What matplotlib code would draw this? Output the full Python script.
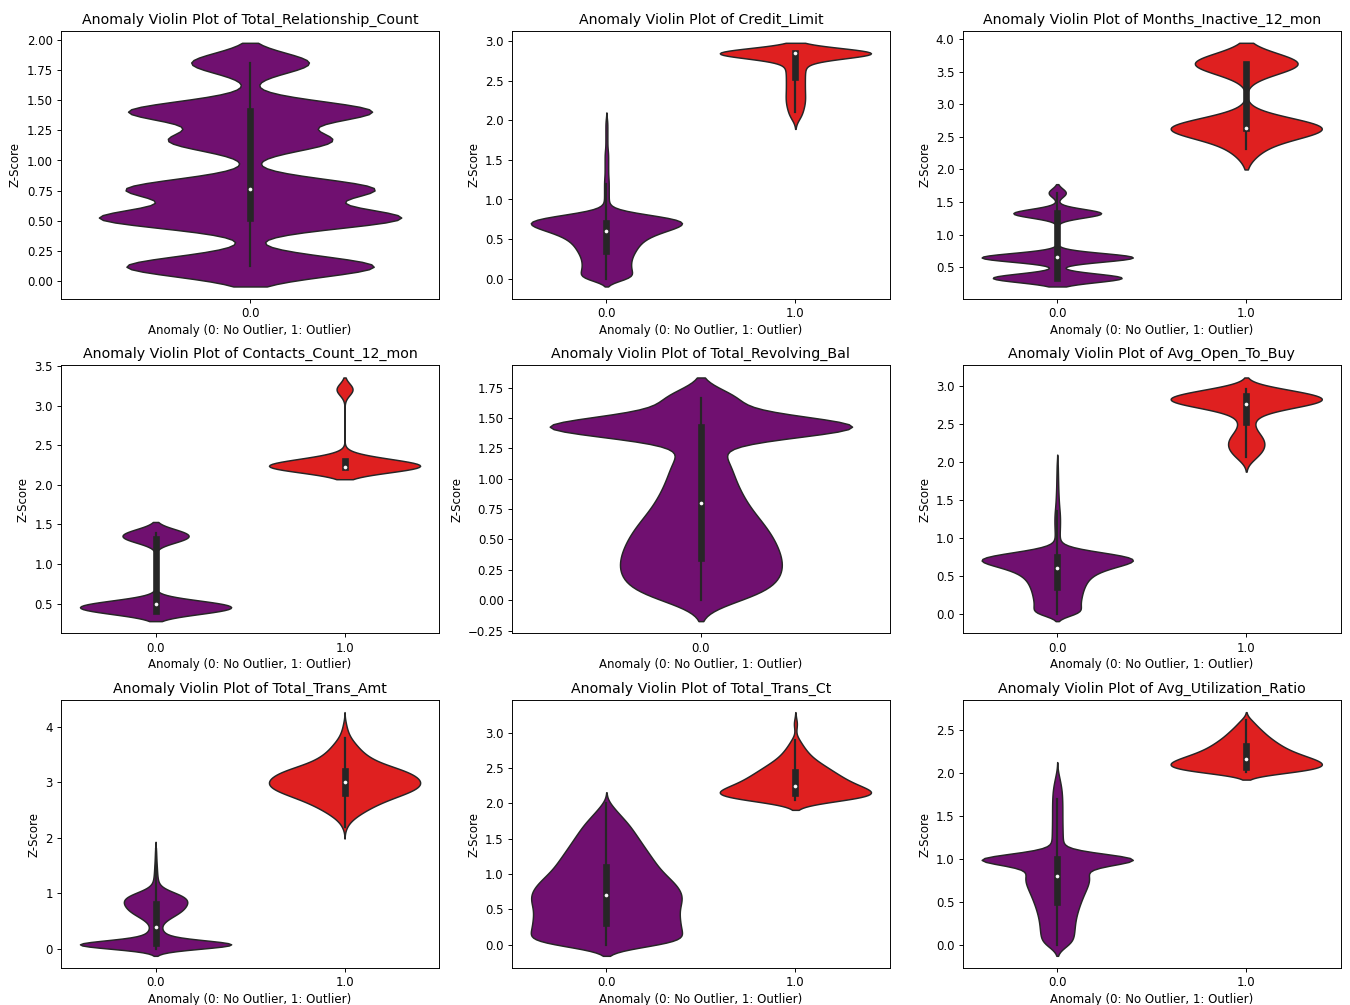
import numpy as np
import pandas as pd
import matplotlib
matplotlib.use("Agg")
import matplotlib.pyplot as plt
import seaborn as sns

# absolute z-score levels and number of customers at each level
relationship_z = [0.121, 0.523, 0.764, 1.166, 1.408, 1.810]
relationship_n = [1912, 2305, 1891, 1243, 1866, 910]

credit_limit_z = [0.00, 0.05, 0.10, 0.15, 0.20, 0.25, 0.30, 0.35, 0.40, 0.45,
                  0.50, 0.55, 0.60, 0.65, 0.70, 0.75, 0.80, 0.85, 0.90, 0.95,
                  1.00, 1.05, 1.10, 1.15, 1.20, 1.25, 1.30, 1.35, 1.40, 1.45,
                  1.50, 1.55, 1.60, 1.65, 1.70, 1.75, 1.80, 1.85, 1.90, 1.95,
                  2.00, 2.02, 2.06, 2.10, 2.15, 2.20, 2.25, 2.30, 2.35, 2.40,
                  2.45, 2.50, 2.55, 2.60, 2.65, 2.70, 2.75, 2.80, 2.85]
credit_limit_n = [353, 333, 314, 304, 304, 314, 333, 363, 392, 431,
                  490, 588, 735, 911, 1029, 960, 588, 176, 49, 29,
                  29, 29, 29, 29, 29, 29, 22, 22, 22, 22,
                  22, 22, 22, 12, 12, 12, 12, 12, 12, 12,
                  12, 10, 12, 14, 19, 21, 22, 22, 21, 21,
                  21, 21, 21, 21, 22, 23, 25, 29, 508]

months_inactive_z = [0.338, 0.652, 1.328, 1.642, 2.318, 2.632, 3.622]
months_inactive_n = [3282, 3846, 2233, 435, 29, 178, 124]

contacts_z = [0.412, 0.493, 1.316, 1.397, 2.220, 2.301, 3.205]
contacts_n = [3227, 3380, 1499, 1392, 399, 176, 54]

revolving_z = [0.00, 0.05, 0.10, 0.15, 0.20, 0.25, 0.30, 0.35, 0.40, 0.45,
               0.50, 0.55, 0.60, 0.65, 0.70, 0.75, 0.80, 0.85, 0.90, 0.95,
               1.00, 1.05, 1.10, 1.15, 1.20, 1.25, 1.30, 1.35, 1.40, 1.45,
               1.50, 1.55, 1.60, 1.427, 1.661]
revolving_n = [222, 259, 290, 314, 326, 333, 333, 326, 320, 308,
               296, 283, 265, 246, 222, 203, 185, 172, 160, 148,
               136, 129, 123, 117, 105, 62, 31, 25, 25, 25,
               31, 86, 49, 2470, 500]

open_to_buy_z = [0.00, 0.05, 0.10, 0.15, 0.20, 0.25, 0.30, 0.35, 0.40, 0.45,
                 0.50, 0.55, 0.60, 0.65, 0.70, 0.75, 0.80, 0.85, 0.90, 0.95,
                 1.00, 1.05, 1.10, 1.15, 1.20, 1.25, 1.30, 1.35, 1.40, 1.45,
                 1.50, 1.55, 1.60, 1.65, 1.70, 1.75, 1.80, 1.85, 1.90, 1.95,
                 2.00, 2.02, 2.07, 2.12, 2.17, 2.22, 2.27, 2.32, 2.37, 2.42,
                 2.47, 2.52, 2.57, 2.62, 2.67, 2.72, 2.77, 2.82, 2.87, 2.92,
                 2.97]
open_to_buy_n = [330, 300, 290, 290, 300, 310, 320, 340, 360, 390,
                 440, 520, 660, 860, 1050, 980, 620, 250, 70, 35,
                 30, 30, 32, 34, 35, 35, 34, 30, 26, 22,
                 19, 17, 15, 13, 12, 11, 10, 9, 8, 7,
                 6, 8, 12, 17, 20, 21, 21, 19, 15, 11,
                 8, 8, 9, 12, 22, 48, 85, 105, 92, 65,
                 40]

trans_amt_z = [0.00, 0.05, 0.10, 0.15, 0.20, 0.25, 0.30, 0.35, 0.40, 0.45,
               0.50, 0.55, 0.60, 0.65, 0.70, 0.75, 0.80, 0.85, 0.90, 0.95,
               1.00, 1.05, 1.10, 1.15, 1.20, 1.25, 1.30, 1.35, 1.40, 1.45,
               1.50, 1.55, 1.60, 1.65, 1.70, 1.75, 1.80,
               2.15, 2.20, 2.25, 2.30, 2.35, 2.40, 2.45, 2.50, 2.55, 2.60,
               2.65, 2.70, 2.75, 2.80, 2.85, 2.90, 2.95, 3.00, 3.05, 3.10,
               3.15, 3.20, 3.25, 3.30, 3.35, 3.40, 3.45, 3.50, 3.55, 3.60,
               3.65, 3.70, 3.75, 3.80, 3.85, 3.90, 3.95, 4.00, 4.05, 4.10]
trans_amt_n = [385, 1595, 1760, 385, 220, 154, 110, 88, 83, 99,
               143, 209, 286, 363, 410, 445, 470, 485, 475, 425,
               315, 180, 95, 55, 39, 33, 28, 24, 22, 20,
               18, 14, 12, 10, 9, 7, 6,
               1, 2, 3, 5, 8, 11, 15, 19, 23, 28,
               33, 39, 46, 53, 59, 64, 66, 66, 65, 62,
               58, 54, 46, 37, 30, 25, 21, 18, 15, 13,
               11, 9, 7, 5, 4, 3, 2, 2, 1, 1]

trans_ct_z = [0.00, 0.05, 0.10, 0.15, 0.20, 0.25, 0.30, 0.35, 0.40, 0.45,
              0.50, 0.55, 0.60, 0.65, 0.70, 0.75, 0.80, 0.85, 0.90, 0.95,
              1.00, 1.05, 1.10, 1.15, 1.20, 1.25, 1.30, 1.35, 1.40, 1.45,
              1.50, 1.55, 1.60, 1.65, 1.70, 1.75, 1.80, 1.85, 1.90, 1.95,
              2.00, 2.05, 2.10, 2.15, 2.20, 2.25, 2.30, 2.35, 2.40, 2.45,
              2.50, 2.55, 2.60, 2.65, 2.70, 2.75, 2.80, 2.85, 2.90, 3.10,
              3.15]
trans_ct_n = [370, 359, 352, 348, 344, 340, 337, 337, 333, 333,
              333, 337, 344, 348, 348, 340, 333, 318, 303, 285,
              266, 252, 237, 226, 215, 204, 192, 181, 170, 159,
              148, 137, 126, 115, 104, 89, 74, 59, 44, 30,
              19, 24, 32, 31, 27, 23, 20, 18, 16, 14,
              12, 10, 8, 6, 5, 4, 3, 2, 2, 1,
              1]

utilization_z = [0.00, 0.05, 0.10, 0.15, 0.20, 0.25, 0.30, 0.35, 0.40, 0.45,
                 0.50, 0.55, 0.60, 0.65, 0.70, 0.75, 0.80, 0.85, 0.90, 0.95,
                 1.00, 1.05, 1.10, 1.15, 1.20, 1.25, 1.30, 1.35, 1.40, 1.45,
                 1.50, 1.55, 1.60, 1.65, 1.70, 1.75, 1.80, 1.85, 1.90, 1.95,
                 2.00, 0.997,
                 2.02, 2.07, 2.12, 2.17, 2.22, 2.27, 2.32, 2.37, 2.42, 2.47,
                 2.52, 2.57, 2.62]
utilization_n = [205, 182, 195, 202, 202, 208, 215, 228, 242, 257,
                 278, 295, 318, 342, 366, 378, 395, 362, 275, 158,
                 84, 70, 70, 70, 67, 63, 63, 62, 61, 60,
                 60, 60, 60, 60, 58, 56, 53, 46, 35, 25,
                 14, 2470,
                 40, 52, 52, 44, 35, 28, 23, 19, 15, 12,
                 9, 6, 4]

features = [
    ("Total_Relationship_Count", relationship_z, relationship_n),
    ("Credit_Limit", credit_limit_z, credit_limit_n),
    ("Months_Inactive_12_mon", months_inactive_z, months_inactive_n),
    ("Contacts_Count_12_mon", contacts_z, contacts_n),
    ("Total_Revolving_Bal", revolving_z, revolving_n),
    ("Avg_Open_To_Buy", open_to_buy_z, open_to_buy_n),
    ("Total_Trans_Amt", trans_amt_z, trans_amt_n),
    ("Total_Trans_Ct", trans_ct_z, trans_ct_n),
    ("Avg_Utilization_Ratio", utilization_z, utilization_n),
]

palette = {0.0: "purple", 1.0: "red"}

fig, axes = plt.subplots(3, 3, figsize=(15.894, 11.824), dpi=85)

for ax, (name, z, n) in zip(axes.flat, features):
    values = np.repeat(np.array(z), np.array(n))
    df = pd.DataFrame({"Z-Score": values,
                       "Anomaly": (values > 2.0).astype(float)})
    sns.violinplot(data=df, x="Anomaly", y="Z-Score", hue="Anomaly",
                   palette=palette, density_norm="width", legend=False,
                   inner_kws=dict(marker="o", markersize=2.5,
                                  markeredgewidth=0.6),
                   ax=ax)
    ax.set_title(f"Anomaly Violin Plot of {name}")
    ax.set_xlabel("Anomaly (0: No Outlier, 1: Outlier)", labelpad=3)
    ax.set_ylabel("Z-Score")

fig.subplots_adjust(left=0.0452, right=0.9924, top=0.9695, bottom=0.0368,
                    wspace=0.1927, hspace=0.2486)
fig.savefig("out.png")
